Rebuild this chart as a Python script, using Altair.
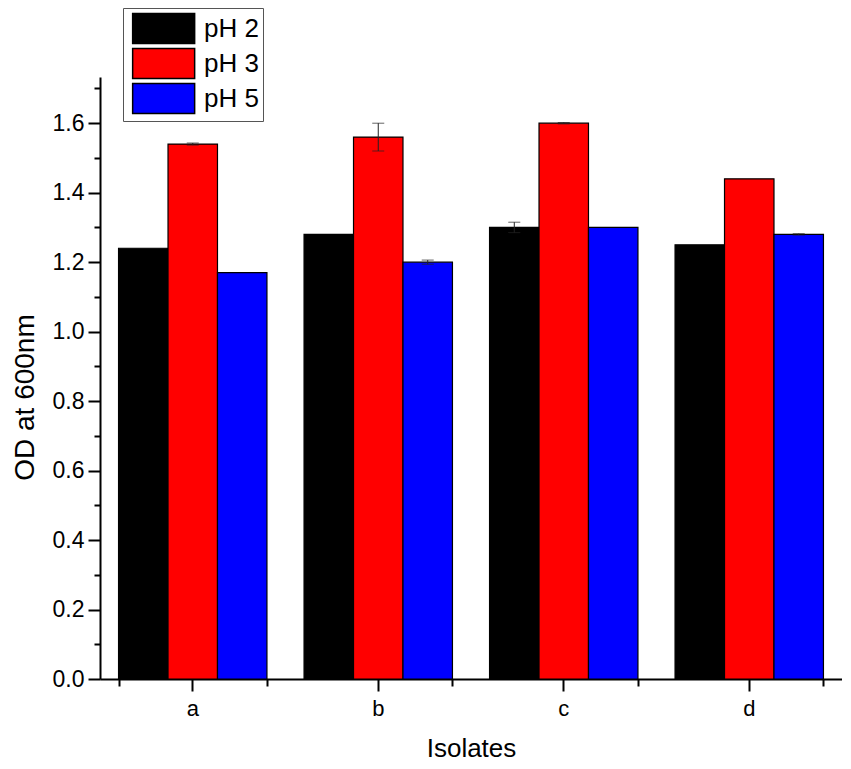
import altair as alt
import pandas as pd

isolates = ["a", "b", "c", "d"]
ph_levels = ["pH 2", "pH 3", "pH 5"]
colors = ["#000000", "#ff0000", "#0000ff"]

ph2 = [1.24, 1.28, 1.30, 1.25]
ph3 = [1.54, 1.56, 1.60, 1.44]
ph5 = [1.17, 1.20, 1.30, 1.28]
ph2_err = [0.0, 0.0, 0.015, 0.0]
ph3_err = [0.003, 0.04, 0.002, 0.0]
ph5_err = [0.0, 0.006, 0.0, 0.002]

y_major = [0.0, 0.2, 0.4, 0.6, 0.8, 1.0, 1.2, 1.4, 1.6]
y_minor = [0.1, 0.3, 0.5, 0.7, 0.9, 1.1, 1.3, 1.5, 1.7]

rows = []
for ph, vals, errs in zip(ph_levels, [ph2, ph3, ph5], [ph2_err, ph3_err, ph5_err]):
    for iso, v, e in zip(isolates, vals, errs):
        rows.append({"isolate": iso, "ph": ph, "od": v, "err": e, "lo": v - e, "hi": v + e})
df = pd.DataFrame(rows)

FONT = "Liberation Sans"

xscale = alt.Scale(domain=isolates, paddingInner=0.2, paddingOuter=0.1)
yscale = alt.Scale(domain=[0, 1.733], nice=False, zero=False)
offscale = alt.Scale(domain=ph_levels, paddingInner=0, paddingOuter=0)

x_main_axis = alt.Axis(
    orient="bottom", title="Isolates", labelAngle=0, labelFontSize=22, labelFont=FONT,
    labelColor="black", labelPadding=7, tickSize=12, tickWidth=2, tickColor="black",
    domainWidth=2, domainColor="black", titleFontSize=26, titleFont=FONT,
    titleFontWeight="normal", titleColor="black", titleY=77, titleBaseline="alphabetic",
    grid=False,
)
y_main_axis = alt.Axis(
    orient="left", title="OD at 600nm", values=y_major, format=".1f", labelFontSize=23,
    labelFont=FONT, labelColor="black", labelPadding=4, tickSize=12, tickWidth=2,
    tickColor="black", domainWidth=2, domainColor="black", titleFontSize=28,
    titleFont=FONT, titleFontWeight="normal", titleColor="black",
    titleX=-67, titleY=320, titleAngle=-90, titleAlign="center", titleBaseline="alphabetic",
    grid=False,
)

legend = alt.Legend(
    title=None, orient="none", legendX=23, legendY=-69, labelFontSize=26, labelFont=FONT,
    labelColor="black", symbolType="M-0.7,-0.97H3.3V0.97H-0.7Z", symbolSize=961,
    symbolStrokeColor="black", symbolStrokeWidth=1.5, symbolOpacity=1,
    strokeColor="#555555", padding=4, rowPadding=-2, labelOffset=44, fillColor="white",
    labelExpr="datum.label + '\u00a0\u00a0'",
)

bars = alt.Chart(df).mark_bar(stroke="black", strokeWidth=1.2).encode(
    x=alt.X("isolate:N", scale=xscale, axis=x_main_axis),
    xOffset=alt.XOffset("ph:N", scale=offscale),
    y=alt.Y("od:Q", scale=yscale, axis=y_main_axis),
    color=alt.Color("ph:N", scale=alt.Scale(domain=ph_levels, range=colors), legend=legend),
)

err_df = df[df["err"] > 0]
err_rule = alt.Chart(err_df).mark_rule(color="#222222", strokeWidth=1).encode(
    x=alt.X("isolate:N", scale=xscale, axis=None),
    xOffset=alt.XOffset("ph:N", scale=offscale),
    y=alt.Y("lo:Q", scale=yscale, axis=None),
    y2="hi:Q",
)
cap_hi = alt.Chart(err_df).mark_tick(color="#222222", thickness=1, size=12).encode(
    x=alt.X("isolate:N", scale=xscale, axis=None),
    xOffset=alt.XOffset("ph:N", scale=offscale),
    y=alt.Y("hi:Q", scale=yscale, axis=None),
)
cap_lo = alt.Chart(err_df).mark_tick(color="#222222", thickness=1, size=12).encode(
    x=alt.X("isolate:N", scale=xscale, axis=None),
    xOffset=alt.XOffset("ph:N", scale=offscale),
    y=alt.Y("lo:Q", scale=yscale, axis=None),
)

minor = alt.Chart(df).mark_point(opacity=0).encode(
    x=alt.X("isolate:N", scale=xscale, axis=alt.Axis(
        orient="bottom", title=None, labels=False, domain=False, tickBand="extent",
        tickSize=7, tickWidth=2, tickColor="black", grid=False)),
    y=alt.Y("od:Q", scale=yscale, axis=alt.Axis(
        orient="left", title=None, labels=False, domain=False, values=y_minor,
        tickSize=6, tickWidth=2, tickColor="black", grid=False)),
)

chart = alt.layer(bars, err_rule, cap_hi, cap_lo, minor).resolve_scale(
    x="shared", y="shared"
).resolve_axis(x="independent", y="independent").properties(
    width=742, height=602,
    padding={"left": 92, "top": 69, "right": 0, "bottom": 82},
    autosize=alt.AutoSizeParams(type="none"),
    background="white",
).configure_view(stroke=None)

chart.save("out.html", embed_options={"renderer": "svg", "actions": False})
